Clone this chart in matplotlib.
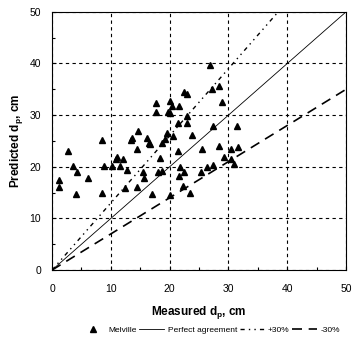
import numpy as np
import matplotlib
matplotlib.use('Agg')
import matplotlib.pyplot as plt
from matplotlib.lines import Line2D

plt.rcParams['font.family'] = 'Liberation Sans'
plt.rcParams['mathtext.fontset'] = 'custom'
plt.rcParams['mathtext.rm'] = 'Liberation Sans:bold'

# measured vs predicted scour depth (cm)
measured = [1.2, 1.2, 2.7, 3.6, 4.3, 4.1, 6.1, 8.5, 8.5, 8.8, 10.2, 10.9, 11.1, 12.1,
            11.6, 12.8, 12.4, 14.5, 13.6, 13.4, 14.6, 14.5, 15.5, 15.6, 16.2, 16.5,
            16.7, 17.0, 17.7, 17.7, 18.7, 18.4, 18.0, 18.7, 19.6, 19.2, 20.6, 20.1,
            20.4, 19.7, 20.1, 21.6, 22.4, 23.0, 23.0, 23.0, 21.4, 23.8, 21.4, 21.8,
            22.4, 21.6, 22.3, 20.1, 23.5, 26.9, 27.2, 28.4, 28.9, 27.4, 31.5, 25.5,
            28.4, 30.4, 31.6, 29.3, 30.4, 31.0, 26.4, 27.4, 25.3]
predicted = [17.4, 16.1, 23.1, 20.2, 19.0, 14.7, 17.8, 25.2, 14.9, 20.2, 20.2, 21.5, 21.9, 21.5,
             20.2, 19.4, 15.9, 16.1, 25.6, 25.2, 26.9, 23.4, 19.0, 17.8, 25.6, 24.6,
             24.4, 14.7, 32.4, 30.6, 24.6, 21.7, 19.0, 19.2, 26.6, 25.4, 26.0, 32.8,
             31.8, 30.6, 30.4, 31.8, 34.5, 34.1, 29.8, 28.5, 28.5, 26.2, 23.1, 20.0,
             19.0, 18.2, 16.3, 14.5, 14.9, 39.7, 35.1, 35.7, 32.6, 27.9, 27.9, 23.4,
             24.0, 23.4, 23.8, 21.9, 21.5, 20.5, 20.0, 20.3, 19.0]
line_x = [0, 50]

fig = plt.figure(figsize=(3.59, 3.48), dpi=100)
ax = fig.add_axes([0.145, 0.224, 0.819, 0.742])

ax.plot(measured, predicted, linestyle='none', marker='^', color='black', markersize=5)
ax.plot(line_x, line_x, color='black', linewidth=0.6)
ax.plot(line_x, [1.3 * v for v in line_x], color='black', linewidth=1,
        dashes=(3, 3, 1, 3, 1, 3))
ax.plot(line_x, [0.7 * v for v in line_x], color='black', linewidth=1.2,
        dashes=(6, 4))

ax.set_xlim(0, 50)
ax.set_ylim(0, 50)
ax.set_xticks([0, 10, 20, 30, 40, 50])
ax.set_yticks([0, 10, 20, 30, 40, 50])
ax.set_xticks(np.arange(5, 50, 10), minor=True)
ax.set_yticks(np.arange(5, 50, 10), minor=True)
ax.tick_params(which='major', direction='in', length=3, width=0.8, labelsize=7.5)
ax.tick_params(axis='x', which='major', pad=10)
ax.tick_params(axis='y', which='major', pad=8)
ax.tick_params(which='minor', direction='in', length=2, width=0.8)
ax.grid(True, which='major', color='black', linestyle=(0, (3, 3)), linewidth=0.8)
for s in ax.spines.values():
    s.set_linewidth(0.8)

ax.set_xlabel(r'Measured d$_\mathregular{p}$, cm', fontsize=8.5, fontweight='bold', labelpad=7)
ax.set_ylabel(r'Predicted d$_\mathregular{p}$, cm', fontsize=8.5, fontweight='bold', labelpad=3)

handles = [
    Line2D([], [], linestyle='none', marker='^', color='black', markersize=4),
    Line2D([], [], color='black', linewidth=0.6),
    Line2D([], [], color='black', linewidth=1, dashes=(3, 3, 1, 3, 1, 3)),
    Line2D([], [], color='black', linewidth=1.2, dashes=(6, 4)),
]
labels = ['Melville', 'Perfect agreement', '+30%', '-30%']
fig.legend(handles, labels, loc='center', bbox_to_anchor=(0.585, 0.052), ncol=4,
           frameon=False, fontsize=6, handlelength=3.0, columnspacing=0.3,
           handletextpad=0.4)

fig.savefig('out.png', dpi=100)
